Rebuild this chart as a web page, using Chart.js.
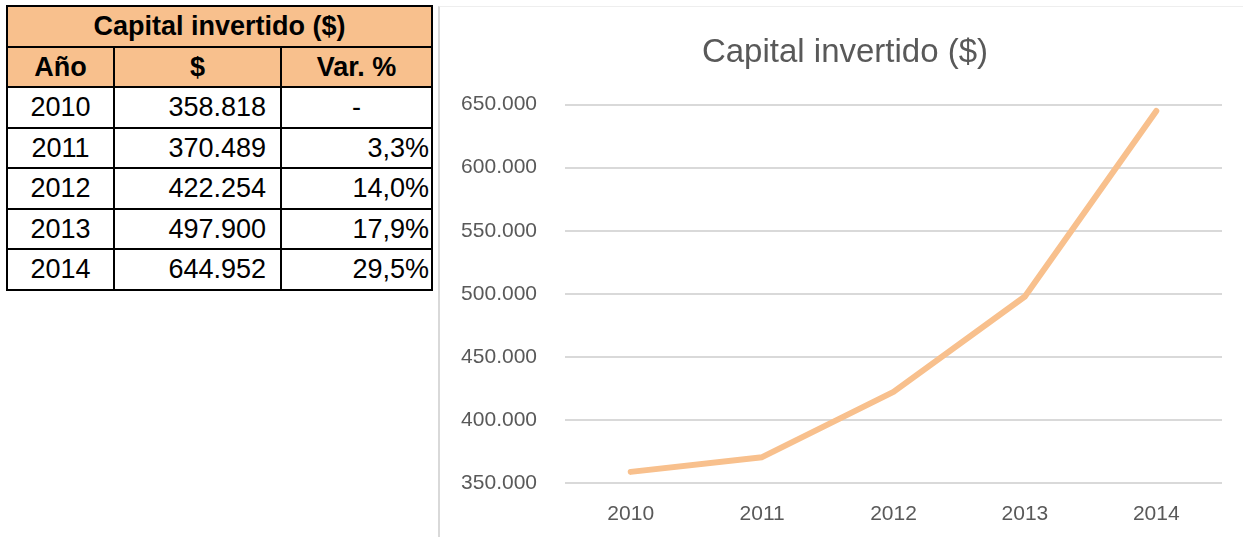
<!DOCTYPE html>
<html>
<head>
<meta charset="utf-8">
<script src="https://cdn.jsdelivr.net/npm/chart.js@4.4.1/dist/chart.umd.min.js"></script>
<style>
  body { margin: 0; width: 1243px; height: 537px; background: #fff; position: relative; overflow: hidden; font-family: "Liberation Sans", Arial, sans-serif; }
  #tbl { position: absolute; left: 6px; top: 5px; border-collapse: collapse; font-size: 27px; color: #000; }
  #tbl td, #tbl th { border: 2px solid #000; height: 38.5px; padding: 0; line-height: 38px; }
  #tbl th { background: #f8c08d; font-weight: bold; text-align: center; }
  #tbl td.yr { text-align: center; }
  #tbl td.val { text-align: right; padding-right: 14px; }
  #tbl td.pct { text-align: right; padding-right: 2px; }
  #tbl td.dash { text-align: center; }
  #box { position: absolute; left: 438px; top: 6px; width: 803px; height: 531px; border-left: 2px solid #d9d9d9; border-top: 1px solid #eeeeee; }
</style>
</head>
<body>
<table id="tbl">
  <colgroup><col style="width:107px"><col style="width:167px"><col style="width:151px"></colgroup>
  <thead></thead>
  <tbody></tbody>
</table>
<div id="box"><canvas id="mychart"></canvas></div>
<script>
const years = ["2010", "2011", "2012", "2013", "2014"];
const capital = [358818, 370489, 422254, 497900, 644952];
const capitalText = ["358.818", "370.489", "422.254", "497.900", "644.952"];
const variation = ["-", "3,3%", "14,0%", "17,9%", "29,5%"];
const tableTitle = "Capital invertido ($)";
const headers = ["Año", "$", "Var. %"];

const head = document.querySelector("#tbl thead");
head.innerHTML =
  '<tr><th colspan="3">' + tableTitle + "</th></tr>" +
  "<tr>" + headers.map((h) => "<th>" + h + "</th>").join("") + "</tr>";
const body = document.querySelector("#tbl tbody");
years.forEach((y, i) => {
  const tr = document.createElement("tr");
  const pctClass = variation[i] === "-" ? "dash" : "pct";
  tr.innerHTML =
    '<td class="yr">' + y + '</td><td class="val">' + capitalText[i] +
    '</td><td class="' + pctClass + '">' + variation[i] + "</td>";
  body.appendChild(tr);
});

const dots = (v) => String(v).replace(/\B(?=(\d{3})+(?!\d))/g, ".");

// nudge the title a bit right, it sits over the whole frame in the original
const shiftTitle = {
  id: "shiftTitle",
  afterLayout(chart) {
    const t = chart.titleBlock;
    if (t) {
      t.left += 14;
      t.right += 14;
    }
  },
};

const data = {
  labels: years,
  datasets: [
    {
      label: "Capital invertido ($)",
      data: capital,
      borderColor: "#f8c08d",
      backgroundColor: "#f8c08d",
      borderWidth: 6,
      borderCapStyle: "round",
      borderJoinStyle: "round",
      pointRadius: 0,
      tension: 0,
    },
  ],
};

const config = {
  type: "line",
  data: data,
  plugins: [shiftTitle],
  options: {
    responsive: true,
    maintainAspectRatio: false,
    animation: false,
    layout: { padding: { left: 0, right: 21, top: 0, bottom: 0 } },
    plugins: {
      legend: { display: false },
      tooltip: { enabled: false },
      title: {
        display: true,
        text: "Capital invertido ($)",
        color: "#595959",
        font: { family: "Liberation Sans", size: 33, weight: "normal" },
        padding: { top: 26, bottom: 32 },
      },
    },
    scales: {
      x: {
        offset: true,
        grid: { display: false },
        border: { display: false },
        ticks: { color: "#595959", font: { family: "Liberation Sans", size: 21 }, padding: 11, maxRotation: 0 },
        afterFit: (s) => { s.height = 55; },
      },
      y: {
        min: 350000,
        max: 650000,
        grid: { color: "#d9d9d9", lineWidth: 2, drawTicks: false },
        border: { display: false },
        ticks: {
          stepSize: 50000,
          color: "#595959",
          font: { family: "Liberation Sans", size: 21 },
          padding: 28,
          callback: (v) => dots(v),
        },
        afterFit: (s) => { s.width = 125; },
      },
    },
  },
};

const mychart = new Chart(document.getElementById("mychart"), config);
</script>
</body>
</html>
